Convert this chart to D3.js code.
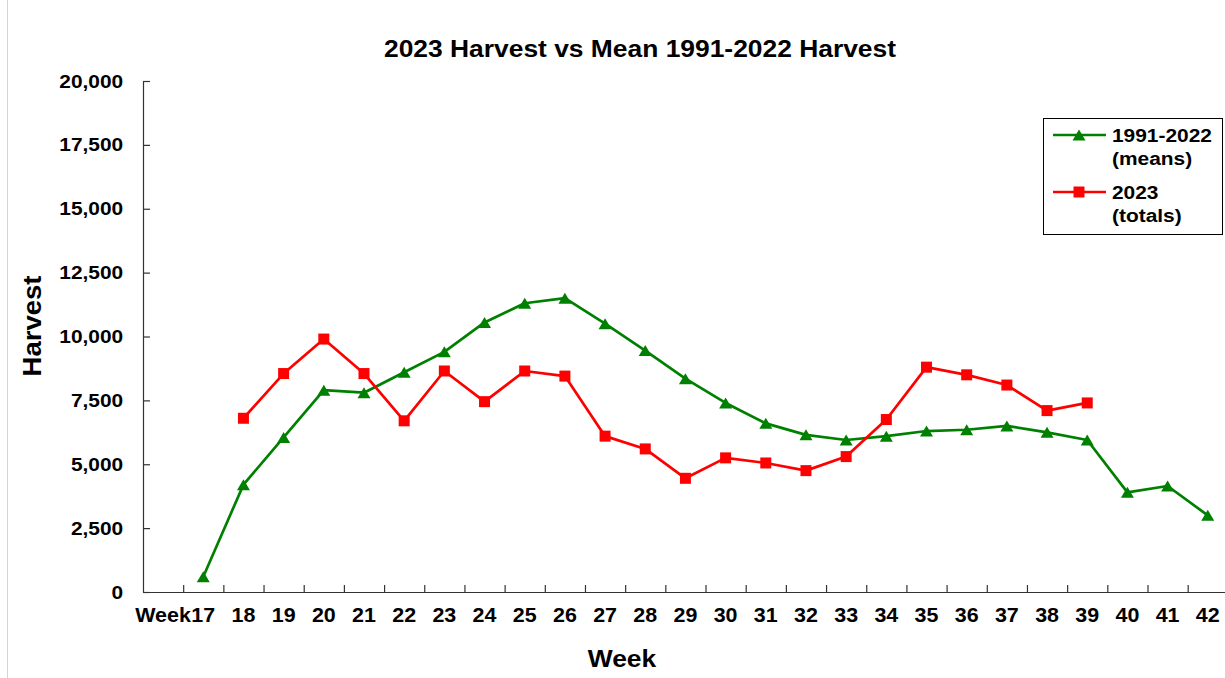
<!DOCTYPE html>
<html>
<head>
<meta charset="utf-8">
<script src="https://cdn.jsdelivr.net/npm/d3@7"></script>
<style>
  body { margin: 0; background: #fff; }
  svg { display: block; }
  text { font-family: "Liberation Sans", Arial, sans-serif; font-weight: bold; fill: #000; }
</style>
</head>
<body>
<svg id="chart" width="1225" height="678"></svg>
<script>
// categories on the x axis (Excel style: "Week" sits in the first slot)
const weeks = ["Week", "17", "18", "19", "20", "21", "22", "23", "24", "25", "26", "27", "28", "29",
  "30", "31", "32", "33", "34", "35", "36", "37", "38", "39", "40", "41", "42"];

// 1991-2022 means
const meanWeeks = ["17", "18", "19", "20", "21", "22", "23", "24", "25", "26", "27", "28", "29",
  "30", "31", "32", "33", "34", "35", "36", "37", "38", "39", "40", "41", "42"];
const meanValues = [600, 4200, 6050, 7900, 7800, 8600, 9400, 10550, 11300, 11500, 10500, 9450, 8350,
  7400, 6600, 6150, 5950, 6100, 6300, 6350, 6500, 6250, 5950, 3900, 4150, 3000];

// 2023 totals
const totalWeeks = ["18", "19", "20", "21", "22", "23", "24", "25", "26", "27", "28", "29",
  "30", "31", "32", "33", "34", "35", "36", "37", "38", "39"];
const totalValues = [6800, 8550, 9900, 8550, 6700, 8650, 7450, 8650, 8450, 6100, 5600, 4450,
  5250, 5050, 4750, 5300, 6750, 8800, 8500, 8100, 7100, 7400];

const yTicks = [0, 2500, 5000, 7500, 10000, 12500, 15000, 17500, 20000];

const GREEN = "#008000", RED = "#ff0000";
const STRETCH = "scale(1.1,1)";

const svg = d3.select("#chart");
const plot = {left: 143, right: 143 + 27 * 40.18, top: 81, bottom: 592};

const x = d3.scaleBand().domain(weeks).range([plot.left, plot.right]).padding(0);
const y = d3.scaleLinear().domain([0, 20000]).range([plot.bottom, plot.top]);
const bw = x.bandwidth();
const cx = w => x(w) + bw / 2;

// faint chart-area border on the left
svg.append("line")
    .attr("x1", 7.5).attr("x2", 7.5).attr("y1", 0).attr("y2", 678)
    .attr("stroke", "#d4d4d4").attr("stroke-width", 1);

// title
svg.append("text")
    .attr("transform", "translate(640,57) " + STRETCH)
    .attr("text-anchor", "middle")
    .style("font-size", "24px")
    .text("2023 Harvest vs Mean 1991-2022 Harvest");

// y axis
const yAxis = svg.append("g")
    .attr("transform", "translate(" + plot.left + ",0)")
    .call(d3.axisLeft(y).tickValues(yTicks).tickFormat(d3.format(","))
      .tickSizeInner(-7).tickSizeOuter(0).tickPadding(18));
yAxis.attr("font-size", null).attr("font-family", null);
yAxis.selectAll("path, line").attr("stroke", "#333").attr("stroke-width", 1.2);
yAxis.selectAll("text").style("font-size", "19px").attr("transform", STRETCH);

// x axis: labels centred in each slot, ticks on the slot boundaries
const xAxis = svg.append("g")
    .attr("transform", "translate(0," + plot.bottom + ")")
    .call(d3.axisBottom(x).tickSizeInner(0).tickSizeOuter(0).tickPadding(16));
xAxis.attr("font-size", null).attr("font-family", null);
xAxis.select(".domain").attr("stroke", "#333").attr("stroke-width", 1.2);
xAxis.selectAll("text").style("font-size", "19.5px").attr("transform", STRETCH);
xAxis.selectAll("line.slot")
  .data(weeks.slice(1))
  .join("line")
    .attr("class", "slot")
    .attr("x1", d => x(d) + 0.5).attr("x2", d => x(d) + 0.5)
    .attr("y1", 0).attr("y2", -7)
    .attr("stroke", "#333").attr("stroke-width", 1.2);

// axis titles
svg.append("text")
    .attr("transform", "translate(622,667) " + STRETCH)
    .attr("text-anchor", "middle")
    .style("font-size", "24px")
    .text("Week");

svg.append("text")
    .attr("transform", "translate(41,326) rotate(-90) " + STRETCH)
    .attr("text-anchor", "middle")
    .style("font-size", "25px")
    .text("Harvest");

// series
const meanData = meanWeeks.map((w, i) => ({week: w, value: meanValues[i]}));
const totalData = totalWeeks.map((w, i) => ({week: w, value: totalValues[i]}));

const line = d3.line().x(d => cx(d.week)).y(d => y(d.value));

function triangle(px, py, w, h) {
  return "M" + px + "," + (py - h / 2) + "L" + (px + w / 2) + "," + (py + h / 2) +
    "L" + (px - w / 2) + "," + (py + h / 2) + "Z";
}

svg.append("path").datum(meanData)
    .attr("d", line).attr("fill", "none")
    .attr("stroke", GREEN).attr("stroke-width", 2.7).attr("stroke-linejoin", "round");
svg.append("g").selectAll("path")
  .data(meanData)
  .join("path")
    .attr("d", d => triangle(cx(d.week), y(d.value), 13, 11))
    .attr("fill", GREEN);

svg.append("path").datum(totalData)
    .attr("d", line).attr("fill", "none")
    .attr("stroke", RED).attr("stroke-width", 2.7).attr("stroke-linejoin", "round");
svg.append("g").selectAll("rect")
  .data(totalData)
  .join("rect")
    .attr("x", d => cx(d.week) - 5.5).attr("y", d => y(d.value) - 5.5)
    .attr("width", 11).attr("height", 11)
    .attr("fill", RED);

// legend
const legend = svg.append("g").attr("transform", "translate(1043,118)");
legend.append("rect")
    .attr("x", 0.5).attr("y", 0.5).attr("width", 179).attr("height", 116)
    .attr("fill", "#fff").attr("stroke", "#000").attr("stroke-width", 1);

const legendItems = [
  {color: GREEN, marker: "triangle", lines: ["1991-2022", "(means)"], y: 17},
  {color: RED, marker: "square", lines: ["2023", "(totals)"], y: 74}
];
legendItems.forEach(item => {
  const g = legend.append("g").attr("transform", "translate(0," + item.y + ")");
  g.append("line").attr("x1", 10).attr("x2", 63).attr("y1", 0).attr("y2", 0)
    .attr("stroke", item.color).attr("stroke-width", 2.7);
  if (item.marker === "triangle") {
    g.append("path").attr("d", triangle(36, 0, 13, 11)).attr("fill", item.color);
  } else {
    g.append("rect").attr("x", 30.5).attr("y", -5.5).attr("width", 11).attr("height", 11).attr("fill", item.color);
  }
  item.lines.forEach((t, i) => {
    g.append("text")
      .attr("transform", "translate(69," + (7 + i * 23) + ") " + STRETCH)
      .style("font-size", "19px")
      .text(t);
  });
});
</script>
</body>
</html>
